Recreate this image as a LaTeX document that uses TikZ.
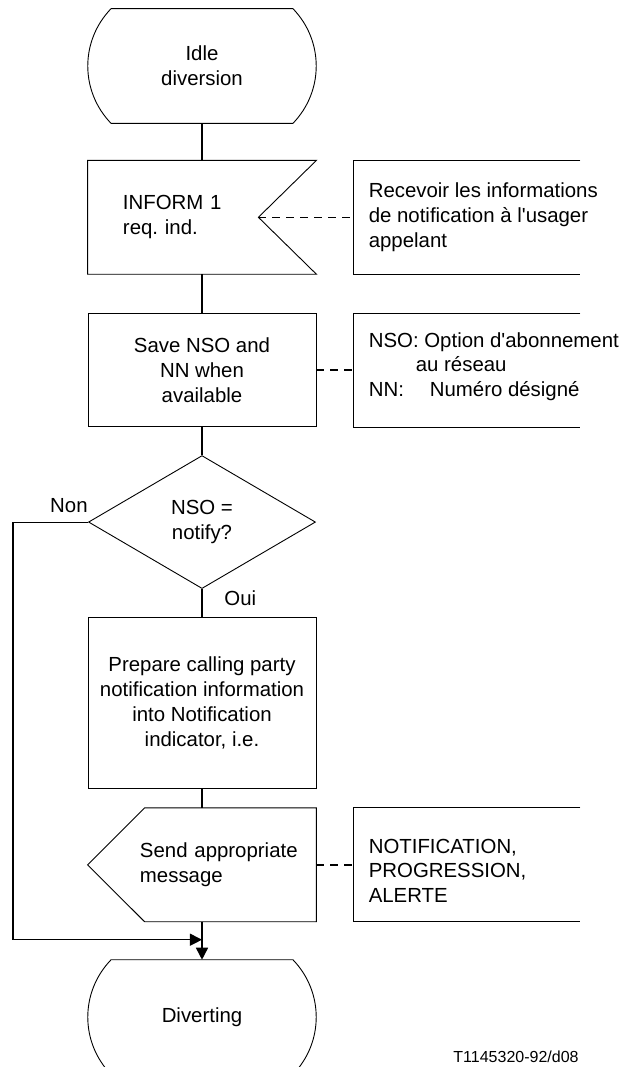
\documentclass[tikz,border=0pt]{standalone}
\usepackage{fontspec}
\setmainfont{Liberation Sans}
\usetikzlibrary{arrows.meta,positioning,shapes.geometric}

\begin{document}
\begin{tikzpicture}[
  font=\fontsize{10.2}{12.4}\selectfont,
  node distance=14pt,
  statebox/.style={minimum width=90.5pt, minimum height=57pt, inner sep=0pt, align=center},
  taskbox/.style={draw, line width=0.45pt, minimum width=114pt, minimum height=56.5pt, inner sep=0pt, align=center},
  inbox/.style={text width=114pt, minimum height=56.5pt, inner sep=0pt, align=left},
  outbox/.style={text width=114pt, minimum height=56.5pt, inner sep=0pt, align=left},
  decbox/.style={draw, diamond, line width=0.45pt, minimum width=113.5pt, minimum height=66.5pt, inner sep=0pt, align=center},
  note/.style={inner xsep=7.5pt, inner ysep=0pt, align=left},
  lbl/.style={inner sep=0pt},
  outline/.style={line width=0.45pt},
  bracket/.style={line width=0.45pt},
  flow/.style={line width=0.8pt},
  loopline/.style={line width=0.55pt},
  commentline/.style={line width=0.8pt, dash pattern=on 4pt off 3pt},
  arr/.style={-{Triangle[length=6pt,width=6pt]}}
]
\useasboundingbox (-101pt,33pt) rectangle (211.5pt,-500.5pt);

% main column
\node[statebox] (idle) {Idle\\diversion};
\node[inbox, below=18.5pt of idle] (inform) {\hspace*{17.5pt}INFORM 1\\\hspace*{17.5pt}req.\ ind.};
\node[taskbox, below=19.5pt of inform] (save) {Save NSO and\\NN when\\available};
\node[decbox, below=of save] (dec) {NSO =\\notify?};
\node[taskbox, minimum height=85.5pt, below=of dec] (prep) {Prepare calling party\\notification information\\into Notification\\indicator, i.e.};
\node[outbox, below=9.5pt of prep] (send) {\hspace*{26pt}Send appropriate\\\hspace*{26pt}message};
\node[statebox, below=19pt of send] (divert) {Diverting};

% comments
\node[note, right=18.5pt of inform] (n1) {Recevoir les informations\\de notification à l\textquotesingle usager\\appelant};
\node[note, right=18.5pt of save, yshift=1.75pt] (n2) {NSO: Option d\textquotesingle abonnement\\\hspace*{23.5pt}au réseau\\\makebox[30.5pt][l]{NN:}Numéro désigné};
\node[note, right=18.5pt of send, yshift=-3pt] (n3) {NOTIFICATION,\\PROGRESSION,\\ALERTE};

% symbol outlines
\foreach \s in {idle,divert}
  \draw[outline] (\s.north west) -- (\s.north east) to[bend left=44] (\s.south east)
    -- (\s.south west) to[bend left=44] (\s.north west);
\draw[outline] (inform.north west) -- (inform.north east) -- ([xshift=-29pt]inform.east) coordinate (notch)
  -- (inform.south east) -- (inform.south west) -- cycle;
\draw[outline] (send.north east) -- (send.south east) -- ([xshift=28.5pt]send.south west)
  -- (send.west) -- ([xshift=28.5pt]send.north west) -- cycle;

\foreach \n/\m in {n1/inform,n2/save,n3/send}
  \draw[bracket] (\n.west |- \m.north) ++(113.5pt,0) -- (\n.west |- \m.north)
    -- (\n.west |- \m.south) -- ++(113.5pt,0);

% connectors
\draw[flow] (idle) -- (inform);
\draw[flow] (inform) -- (save);
\draw[flow] (save) -- (dec);
\draw[flow] (dec) -- (prep);
\draw[flow] (prep) -- (send);
\draw[flow, arr] (send) -- (divert);
\coordinate[below=9pt of send.south] (merge);
\draw[loopline, arr] (dec.west) -- ++(-37.5pt,0) |- (merge);

\draw[commentline] (notch) -- (notch -| n1.west);
\draw[commentline] (save.east) -- (save.east -| n2.west);
\draw[commentline] (send.east) -- (send.east -| n3.west);

% labels
\node[lbl, anchor=south east] (non) at ([yshift=4.5pt]dec.west) {Non};
\node[lbl, anchor=north west] (oui) at ([xshift=11pt,yshift=-0.5pt]dec.south) {Oui};
\node[lbl, anchor=base east, font=\fontsize{8}{9.6}\selectfont] (figid) at (188.5pt,-498pt) {T1145320-92/d08};
\end{tikzpicture}
\end{document}
